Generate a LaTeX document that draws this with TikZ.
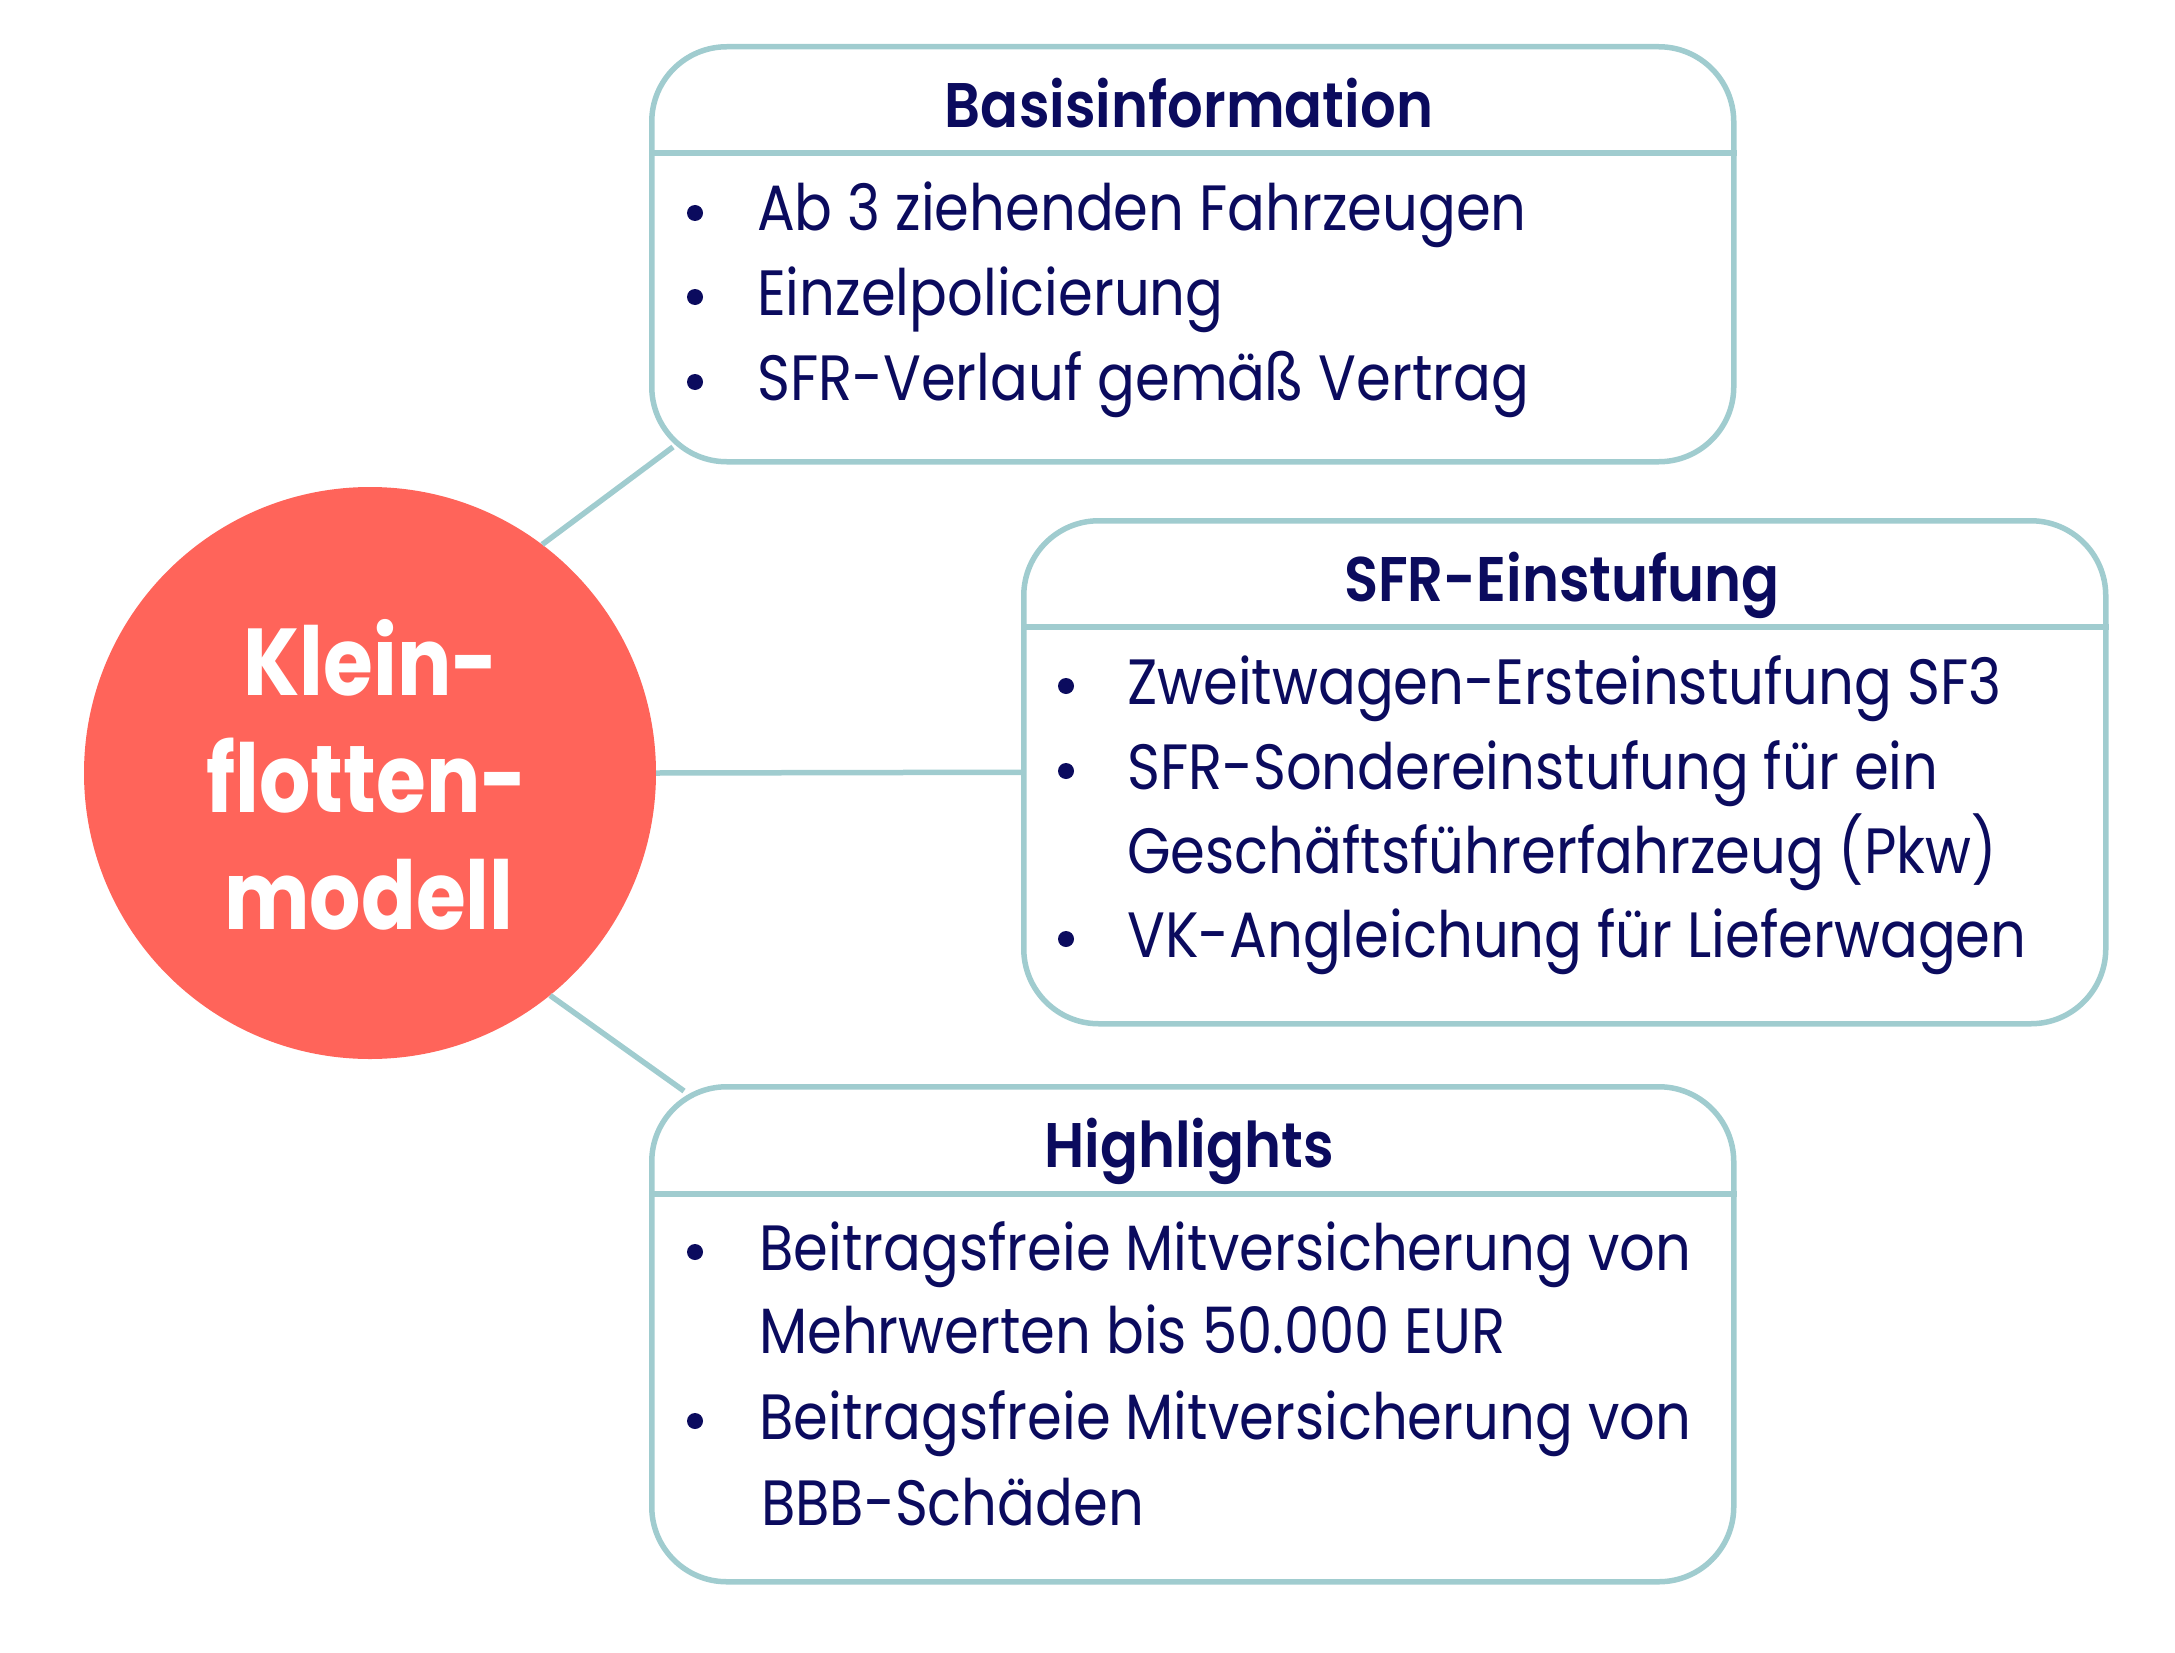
\documentclass[tikz,border=0pt]{standalone}
\usepackage{fontspec}
\setmainfont{Poppins}[FakeStretch=0.875]
\newfontfamily\circfont{Poppins}[FakeStretch=0.85]
\newfontfamily\ttlfont{Poppins SemiBold}[FakeStretch=0.89]
\usetikzlibrary{calc}
\definecolor{teal}{HTML}{A0CCCF}
\definecolor{coral}{HTML}{FF645A}
\definecolor{navy}{HTML}{0B0B5E}
\begin{document}
\begin{tikzpicture}[x=1pt,y=-1pt,
  box/.style={draw=teal,line width=5.5pt,rounded corners=75pt,fill=white,anchor=north west,inner sep=0pt,minimum width=1082pt},
  conn/.style={draw=teal,line width=5.5pt},
  ttl/.style={anchor=base,text=navy,font=\fontsize{63}{63}\ttlfont,inner sep=0pt},
  itm/.style={anchor=base west,text=navy,font=\fontsize{64}{64}\selectfont,inner sep=0pt},
  blt/.style={circle,fill=navy,inner sep=0pt,minimum size=16pt},
  circtxt/.style={anchor=base,text=white,font=\fontsize{95}{95}\circfont\bfseries,inner sep=0pt}]
\useasboundingbox (0,0) rectangle (2175,1653);
% central circle
\node[circle,fill=coral,minimum size=572pt,inner sep=0pt] (c) at (370,773) {};
\node[circtxt] (k1) at (371,695) {Klein-};
\node[circtxt] (k2) at (367,812) {flotten-};
\node[circtxt] (k3) at (369,929) {modell};
% boxes
\node[box,minimum height=415pt] (b1) at (649,44) {};
\node[box,minimum height=503pt] (b2) at (1021,518) {};
\node[box,minimum height=495pt] (b3) at (649,1084) {};
\draw[conn] ($(b1.north west)+(0,109)$) -- ($(b1.north east)+(0,109)$);
\draw[conn] ($(b2.north west)+(0,109)$) -- ($(b2.north east)+(0,109)$);
\draw[conn] ($(b3.north west)+(0,110)$) -- ($(b3.north east)+(0,110)$);
% connectors
\coordinate (e1) at (673,447);
\coordinate (e3) at (684,1091);
\draw[conn] (c.53) -- (e1);
\draw[conn] (c.east) -- (b2.west);
\draw[conn] (c.-51) -- (e3);
% box 1
\node[ttl] (t1) at (1189,128) {Basisinformation};
\node[blt] (p11) at (695,213) {};
\node[itm] (i11) at (757,231) {Ab 3 ziehenden Fahrzeugen};
\node[blt] (p12) at (695,297) {};
\node[itm] (i12) at (757,315) {Einzelpolicierung};
\node[blt] (p13) at (695,382) {};
\node[itm] (i13) at (757,400) {SFR-Verlauf gemäß Vertrag};
% box 2
\node[ttl] (t2) at (1562,601) {SFR-Einstufung};
\node[blt] (p21) at (1066,686) {};
\node[itm] (i21) at (1127,704) {Zweitwagen-Ersteinstufung SF3};
\node[blt] (p22) at (1066,771) {};
\node[itm] (i22) at (1127,789) {SFR-Sondereinstufung für ein};
\node[itm] (i23) at (1127,873) {Geschäftsführerfahrzeug (Pkw)};
\node[blt] (p24) at (1066,939) {};
\node[itm] (i24) at (1127,957) {VK-Angleichung für Lieferwagen};
% box 3
\node[ttl] (t3) at (1189,1167) {Highlights};
\node[blt] (p31) at (695,1252) {};
\node[itm] (i31) at (759,1270) {Beitragsfreie Mitversicherung von};
\node[itm] (i32) at (759,1353) {Mehrwerten bis 50.000 EUR};
\node[blt] (p33) at (695,1421) {};
\node[itm] (i33) at (759,1439) {Beitragsfreie Mitversicherung von};
\node[itm] (i34) at (761,1525) {BBB-Schäden};
\end{tikzpicture}
\end{document}
